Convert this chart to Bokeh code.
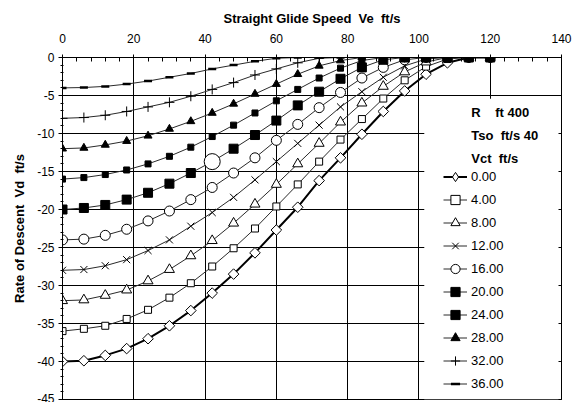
import math
from bokeh.plotting import figure
from bokeh.models import (Range1d, FixedTicker, LinearAxis, Legend, LegendItem,
                          Label, BoxAnnotation)
from bokeh.embed import file_html
from bokeh.resources import INLINE

# ---------------- data ----------------
ve = [0, 6, 12, 18, 24, 30, 36, 42, 48, 54, 60, 66, 72, 78, 84, 90, 96, 102, 108, 114, 120]

vct_labels = ["0.00", "4.00", "8.00", "12.00", "16.00", "20.00", "24.00", "28.00", "32.00", "36.00"]

vd_00 = [-40.0, -39.9, -39.2, -38.3, -37.0, -35.3, -33.3, -31.0, -28.5, -25.7, -22.7, -19.7, -16.2, -13.2, -10.1, -7.1, -4.4, -2.2, -0.7, 0.0, 0.0]
vd_04 = [-36.0, -35.7, -35.3, -34.4, -33.2, -31.6, -29.7, -27.5, -25.1, -22.5, -19.6, -16.7, -13.7, -10.8, -8.1, -5.4, -3.0, -1.2, -0.2, 0.0, 0.0]
vd_08 = [-32.0, -31.9, -31.3, -30.6, -29.4, -27.9, -26.1, -24.1, -21.8, -19.3, -16.7, -14.0, -11.3, -8.5, -6.0, -3.8, -1.9, -0.6, 0.0, 0.0, 0.0]
vd_12 = [-28.0, -27.9, -27.4, -26.6, -25.4, -24.0, -22.2, -20.4, -18.4, -16.1, -13.7, -11.3, -8.9, -6.5, -4.5, -2.6, -1.1, -0.2, 0.0, 0.0, 0.0]
vd_16 = [-24.0, -23.9, -23.4, -22.6, -21.5, -20.2, -18.7, -17.1, -15.2, -13.2, -10.9, -8.8, -6.6, -4.6, -2.7, -1.3, -0.3, 0.0, 0.0, 0.0, 0.0]
vd_20 = [-20.0, -19.8, -19.4, -18.7, -17.8, -16.6, -15.2, -13.7, -12.0, -10.2, -8.3, -6.3, -4.5, -2.8, -1.3, -0.3, 0.0, 0.0, 0.0, 0.0, 0.0]
vd_24 = [-16.0, -15.8, -15.4, -14.8, -14.0, -13.0, -11.8, -10.4, -8.9, -7.3, -5.7, -4.2, -2.7, -1.4, -0.4, 0.0, 0.0, 0.0, 0.0, 0.0, 0.0]
vd_28 = [-12.0, -11.9, -11.5, -11.0, -10.3, -9.4, -8.4, -7.3, -6.1, -4.8, -3.5, -2.2, -1.1, -0.4, 0.0, 0.0, 0.0, 0.0, 0.0, 0.0, 0.0]
vd_32 = [-8.0, -7.9, -7.6, -7.1, -6.5, -5.9, -5.1, -4.2, -3.3, -2.3, -1.5, -0.7, -0.1, 0.0, 0.0, 0.0, 0.0, 0.0, 0.0, 0.0, 0.0]
vd_36 = [-4.0, -3.95, -3.8, -3.5, -3.1, -2.6, -2.1, -1.5, -1.0, -0.5, -0.1, 0.0, 0.0, 0.0, 0.0, 0.0, 0.0, 0.0, 0.0, 0.0, 0.0]

series = [vd_00, vd_04, vd_08, vd_12, vd_16, vd_20, vd_24, vd_28, vd_32, vd_36]

NB = "\u00a0"
header_lines = ["R" + NB * 4 + "ft 400", "Tso" + NB + " ft/s 40", "Vct" + NB + " ft/s"]
x_title = "Straight Glide Speed" + NB + " Ve" + NB + " ft/s"
y_title = "Rate of Descent" + NB + " Vd" + NB + " ft/s"
x_ticks = [0, 20, 40, 60, 80, 100, 120, 140]
y_ticks = [-45, -40, -35, -30, -25, -20, -15, -10, -5, 0]
highlight_ve = 42  # point of the 20.00 series drawn as a large open circle

# ---------------- styles ----------------
FONT = "Liberation Sans"
styles = [
    dict(marker="square", size=7.5, fill="white", angle=math.pi / 4, lw=1.0),   # diamond
    dict(marker="square", size=7, fill="white", angle=0, lw=1.0),
    dict(marker="triangle", size=10, fill="white", angle=0, lw=1.0),
    dict(marker="x", size=10, fill="white", angle=0, lw=1.0),
    dict(marker="circle", size=10, fill="white", angle=0, lw=1.0),
    dict(marker="square", size=9, fill="black", angle=0, lw=1.0),
    dict(marker="square", size=6, fill="black", angle=0, lw=1.0),
    dict(marker="triangle", size=8, fill="black", angle=0, lw=1.0),
    dict(marker="cross", size=10, fill="black", angle=0, lw=1.0),
    dict(marker="dash", size=8, fill="black", angle=0, lw=2.5),
]

p = figure(width=581, height=402,
           x_range=Range1d(0, 140), y_range=Range1d(-45, 0),
           x_axis_location="above",
           output_backend="svg", toolbar_location=None,
           min_border_left=62, min_border_right=20,
           min_border_top=57, min_border_bottom=3)
p.background_fill_color = "white"
p.border_fill_color = "white"
p.outline_line_color = "black"
p.outline_line_width = 1

# top axis
xa = p.xaxis[0]
xa.ticker = FixedTicker(ticks=x_ticks, minor_ticks=list(range(0, 141, 4)))
xa.major_tick_in = 5
xa.major_tick_out = 3
xa.minor_tick_in = 4
xa.minor_tick_out = 0
xa.axis_line_color = "black"
xa.major_tick_line_color = "black"
xa.minor_tick_line_color = "black"
xa.major_label_standoff = 12
xa.major_label_text_font = FONT
xa.major_label_text_font_size = "12px"
xa.major_label_text_color = "black"
xa.axis_label = x_title
xa.axis_label_text_font = FONT
xa.axis_label_text_font_size = "13px"
xa.axis_label_text_font_style = "bold"
xa.axis_label_text_color = "black"
xa.axis_label_standoff = 5

# left axis
ya = p.yaxis[0]
ya.ticker = FixedTicker(ticks=y_ticks, minor_ticks=list(range(-45, 1)))
ya.major_label_overrides = {v: str(v) for v in y_ticks}
ya.major_tick_in = 1
ya.major_tick_out = 4
ya.minor_tick_in = 1
ya.minor_tick_out = 2
ya.axis_line_color = "black"
ya.major_tick_line_color = "black"
ya.minor_tick_line_color = "black"
ya.major_label_standoff = 4
ya.major_label_text_font = FONT
ya.major_label_text_font_size = "12px"
ya.major_label_text_color = "black"
ya.axis_label = y_title
ya.axis_label_text_font = FONT
ya.axis_label_text_font_size = "13px"
ya.axis_label_text_font_style = "bold"
ya.axis_label_text_color = "black"
ya.axis_label_standoff = 7

# right axis: ticks only
ra = LinearAxis(ticker=FixedTicker(ticks=y_ticks, minor_ticks=[]),
                major_label_overrides={v: "" for v in y_ticks},
                major_label_standoff=0, major_tick_in=3, major_tick_out=0,
                minor_tick_in=0, minor_tick_out=0,
                axis_line_color="black", major_tick_line_color="black")
p.add_layout(ra, "right")

# grids
p.xgrid.ticker = FixedTicker(ticks=[20, 40, 60, 80, 100, 120])
p.ygrid.ticker = FixedTicker(ticks=[-40, -35, -30, -25, -20, -15, -10, -5])
for g in (p.xgrid, p.ygrid):
    g.grid_line_color = "black"
    g.grid_line_alpha = 1.0
    g.grid_line_width = 1

# white legend panel
box = BoxAnnotation(left=101.5, right=140, top=-5.43, bottom=-45,
                    fill_color="white", fill_alpha=1.0, line_alpha=0, level="underlay")
p.add_layout(box)

# series
items = []
for i, (vd, lab, st) in enumerate(zip(series, vct_labels, styles)):
    lw = 2.0 if i == 0 else 1.0
    lg = None
    if i == 0:
        # legend-only glyph (the legend draws markers unrotated): zero-size upright diamonds
        lg = p.scatter(ve, vd, marker="diamond", size=0, fill_color="white",
                       line_color="black", line_width=1)
    lr = p.line(ve, vd, line_color="black" if i == 0 else "#2a2a2a", line_width=lw)
    if i == 5:
        xs = [x for x in ve if x != highlight_ve]
        ys = [y for x, y in zip(ve, vd) if x != highlight_ve]
    else:
        xs, ys = ve, vd
    sr = p.scatter(xs, ys, marker=st["marker"], size=st["size"], angle=st["angle"],
                   fill_color=st["fill"], line_color="black", line_width=st["lw"])
    items.append(LegendItem(label=lab, renderers=[lr, lg if lg is not None else sr]))
    if i == 5:
        hx = [x for x in ve if x == highlight_ve]
        hy = [y for x, y in zip(ve, vd) if x == highlight_ve]
        p.scatter(hx, hy, marker="circle", size=16, fill_color="white",
                  line_color="black", line_width=1)

legend = Legend(items=items, location=(381, 4), padding=0, margin=0,
                spacing=0, glyph_height=23, label_height=23, glyph_width=24,
                label_standoff=4, background_fill_alpha=0, border_line_alpha=0,
                label_text_font=FONT, label_text_font_size="13px",
                label_text_color="black")
p.add_layout(legend)

for k, txt in enumerate(header_lines):
    p.add_layout(Label(x=114.7, y=-7.24 - 3.0 * k, text=txt, text_font=FONT,
                       text_font_size="13px", text_font_style="bold",
                       text_color="black", text_baseline="middle", text_align="left"))

open("out.html", "w").write(file_html(p, INLINE))
